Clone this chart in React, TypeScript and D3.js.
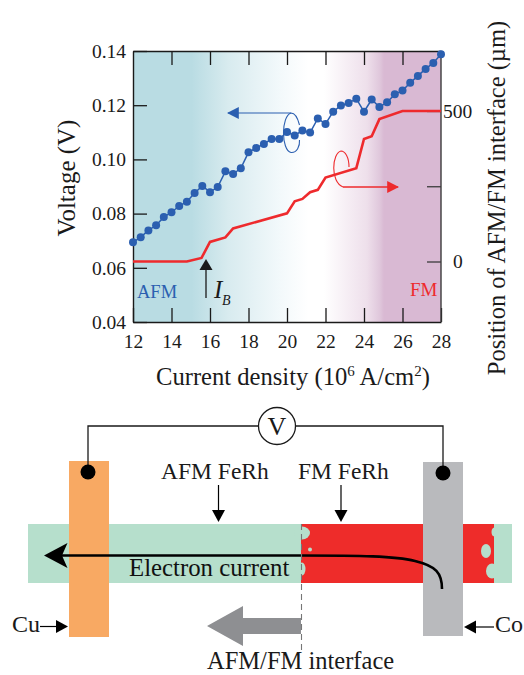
import React, { useEffect, useRef } from 'react';
import * as d3 from 'd3';

// current density (10^6 A/cm2) for the blue voltage points
const currentDensity = [
  12, 12.4, 12.8, 13.2, 13.6, 14, 14.4, 14.8, 15.2, 15.6, 16, 16.4, 16.8, 17.2, 17.6, 18, 18.4, 18.8, 19.2, 19.6, 20,
  20.4, 20.8, 21.2, 21.6, 22, 22.4, 22.8, 23.2, 23.6, 24, 24.4, 24.8, 25.2, 25.6, 26, 26.4, 26.8, 27.2, 27.6, 28,
];
const voltage = [
  0.0694, 0.0713, 0.0738, 0.0757, 0.0787, 0.0805, 0.0828, 0.0844, 0.0876, 0.0902, 0.0879, 0.0898, 0.0956, 0.0946,
  0.0967, 0.1026, 0.1042, 0.1057, 0.1075, 0.1075, 0.1101, 0.1088, 0.1107, 0.1099, 0.1151, 0.1131, 0.1176, 0.1199,
  0.1208, 0.1224, 0.1176, 0.1221, 0.1193, 0.1211, 0.124, 0.1254, 0.1283, 0.1308, 0.1334, 0.1356, 0.1388,
];
const positionCurrent = [12, 14.8, 15.56, 16, 16.8, 17.2, 20, 20.4, 20.8, 21.2, 21.6, 22, 23.6, 24, 24.4, 24.8, 26, 28];
const position = [0, 0, 12, 65, 80, 110, 160, 200, 208, 230, 238, 279, 310, 407, 416, 473, 500, 500];

const xTicks = [12, 14, 16, 18, 20, 22, 24, 26, 28];
const yTicks = [0.04, 0.06, 0.08, 0.1, 0.12, 0.14];
const rightTicks = [0, 250, 500];
const rightLabels = [0, 500];

const W = 524, H = 675;
const plot = { left: 133, right: 441, top: 51, bottom: 322 };
const BLUE = '#2b5fb0', RED = '#ee2a2d', SERIF = '"Liberation Serif", serif';

const App = () => {
  const ref = useRef<SVGSVGElement>(null);

  useEffect(() => {
    const svg = d3.select(ref.current);
    svg.selectAll('*').remove();

    const x = d3.scaleLinear().domain([12, 28]).range([plot.left, plot.right]);
    const y = d3.scaleLinear().domain([0.04, 0.14]).range([plot.bottom, plot.top]);
    const yr = d3.scaleLinear().domain([0, 500]).range([261.5, 111]);
    const tick = 14;

    const defs = svg.append('defs');
    const grad = defs.append('linearGradient').attr('id', 'phase');
    [[0, '#b9dce3'], [0.19, '#b9dce3'], [0.31, '#d8ebef'], [0.48, '#f3f9fb'], [0.57, '#ffffff'], [0.62, '#ffffff'],
      [0.76, '#eedfeb'], [0.8, '#e0c8dc'], [0.815, '#d9b9d3'], [1, '#d9b9d3']].forEach(([o, c]) => {
      grad.append('stop').attr('offset', o as number).attr('stop-color', c as string);
    });
    const arrowHead = (id: string, color: string) => {
      defs.append('marker').attr('id', id).attr('viewBox', '0 0 10 10').attr('refX', 9).attr('refY', 5)
        .attr('markerUnits', 'userSpaceOnUse').attr('markerWidth', 12).attr('markerHeight', 12).attr('orient', 'auto')
        .append('path').attr('d', 'M0,0L10,5L0,10Z').attr('fill', color);
    };
    arrowHead('headBlue', BLUE);
    arrowHead('headRed', RED);

    svg.append('rect').attr('x', plot.left).attr('y', plot.top)
      .attr('width', plot.right - plot.left).attr('height', plot.bottom - plot.top).attr('fill', 'url(#phase)');

    // axes
    const style = (g: any, color = '#1a1a1a') => {
      g.selectAll('.domain').attr('stroke', color).attr('stroke-width', 1.4);
      g.selectAll('line').attr('stroke', color).attr('stroke-width', 1.3);
      g.selectAll('text').attr('font-family', SERIF).attr('font-size', 19.5).attr('fill', '#1a1a1a');
    };
    svg.append('g').attr('transform', `translate(0,${plot.bottom})`)
      .call(d3.axisBottom(x).tickValues(xTicks).tickSize(-tick).tickPadding(8).tickSizeOuter(0)).call(style)
      .selectAll('text').attr('dy', '0.9em');
    svg.append('g').attr('transform', `translate(0,${plot.top})`)
      .call(d3.axisTop(x).tickValues(xTicks.slice(1, -1)).tickSize(-tick).tickFormat(() => '').tickSizeOuter(0)).call(style);
    svg.append('g').attr('transform', `translate(${plot.left},0)`)
      .call(d3.axisLeft(y).tickValues(yTicks).tickSize(-tick).tickPadding(7).tickFormat(d3.format('.2f') as any).tickSizeOuter(0))
      .call(style);
    const rightAxis = svg.append('g').attr('transform', `translate(${plot.right},0)`)
      .call(d3.axisRight(yr).tickValues(rightTicks).tickSize(-tick).tickPadding(4).tickFormat(() => '').tickSizeOuter(0))
      .call(style, '#3c3c3c');
    rightAxis.select('.domain').attr('d', `M0,${plot.top}V${plot.bottom}`);
    rightLabels.forEach((v) => {
      svg.append('text').attr('x', v === 0 ? 453 : 443).attr('y', yr(v)).attr('dy', '0.34em')
        .attr('font-family', SERIF).attr('font-size', 19.5).attr('fill', '#1a1a1a').text(v);
    });

    // series
    const posLine = d3.line<number>().x((_, i) => x(positionCurrent[i])).y((d) => yr(d));
    svg.append('path').attr('d', posLine(position)).attr('fill', 'none').attr('stroke', RED).attr('stroke-width', 2.6);
    const vLine = d3.line<number>().x((_, i) => x(currentDensity[i])).y((d) => y(d));
    svg.append('path').attr('d', vLine(voltage)).attr('fill', 'none').attr('stroke', BLUE).attr('stroke-width', 1.5);
    svg.append('g').selectAll('circle').data(voltage).enter().append('circle')
      .attr('cx', (_, i) => x(currentDensity[i])).attr('cy', (d) => y(d)).attr('r', 4).attr('fill', BLUE);

    // curve annotations
    svg.append('path').attr('d', 'M291,113H228').attr('stroke', BLUE).attr('stroke-width', 1.2)
      .attr('marker-end', 'url(#headBlue)').attr('fill', 'none');
    svg.append('path').attr('d', 'M291,113C281,116 281,150 291,152.5C297,153 300,146 299.5,140M291,113C295,113 298,119 299.5,125')
      .attr('stroke', BLUE).attr('stroke-width', 1.1).attr('fill', 'none');
    svg.append('path').attr('d', 'M343,187H398').attr('stroke', RED).attr('stroke-width', 1.3)
      .attr('marker-end', 'url(#headRed)').attr('fill', 'none');
    svg.append('path').attr('d', 'M349,167C349,157 345,151 341,151C332,153 330,182 343,187')
      .attr('stroke', RED).attr('stroke-width', 1.1).attr('fill', 'none');

    // I_B arrow
    svg.append('path').attr('d', 'M206,298V268').attr('stroke', '#1a1a1a').attr('stroke-width', 1.3);
    svg.append('path').attr('d', 'M206,259L212.5,270H199.5Z').attr('fill', '#1a1a1a');

    // labels over the plot
    const label = (t: string, px: number, py: number, size: number, fill = '#1a1a1a', anchor = 'start') =>
      svg.append('text').attr('x', px).attr('y', py).attr('font-family', SERIF).attr('font-size', size)
        .attr('fill', fill).attr('text-anchor', anchor).text(t);
    label('AFM', 137, 298, 18.5, BLUE);
    label('FM', 410, 296, 19, RED);
    label('I', 214, 298, 25, '#1a1a1a').attr('font-style', 'italic');
    label('B', 222, 305, 14, '#1a1a1a').attr('font-style', 'italic');

    const xTitle = label('Current density (10', 156, 385, 24.6);
    xTitle.append('tspan').attr('font-size', 15).attr('dy', -9).text('6');
    xTitle.append('tspan').attr('dy', 9).text(' A/cm');
    xTitle.append('tspan').attr('font-size', 15).attr('dy', -9).text('2');
    xTitle.append('tspan').attr('dy', 9).text(')');
    label('Voltage (V)', 0, 0, 25, '#1a1a1a', 'middle').attr('transform', 'translate(75,178) rotate(-90)');
    label('Position of AFM/FM interface (µm)', 0, 0, 24.5, '#1a1a1a', 'middle').attr('transform', 'translate(505,198) rotate(-90)');

    // device schematic
    const rect = (rx: number, ry: number, w: number, h: number, fill: string) =>
      svg.append('rect').attr('x', rx).attr('y', ry).attr('width', w).attr('height', h).attr('fill', fill);
    const GREEN = '#b6dfcc', SCHEM_RED = '#ee2c2a';
    rect(28, 524, 484, 59, GREEN);
    rect(301, 524, 193, 59, SCHEM_RED);
    // domain bubbles at the two AFM/FM edges
    [[302, 533, 8, 6.5], [302, 569, 3.5, 6.5], [310, 549.5, 2, 2], [486, 551, 5, 7], [492, 571, 6, 7.5], [495, 532, 3.5, 4.5]]
      .forEach(([cx, cy, rx, ry]) => {
        svg.append('ellipse').attr('cx', cx).attr('cy', cy).attr('rx', rx).attr('ry', ry).attr('fill', GREEN);
      });
    rect(69, 461, 40, 176, '#f8a963');
    rect(423, 462, 40, 174, '#b9babd');

    svg.append('path').attr('d', 'M88,472V426H258M296,426H443V473').attr('fill', 'none')
      .attr('stroke', '#1a1a1a').attr('stroke-width', 1.3);
    svg.append('circle').attr('cx', 277).attr('cy', 426).attr('r', 18.5).attr('fill', '#fff')
      .attr('stroke', '#1a1a1a').attr('stroke-width', 1.3);
    label('V', 277, 435, 26, '#1a1a1a', 'middle');
    svg.append('circle').attr('cx', 88).attr('cy', 472).attr('r', 7.5).attr('fill', '#000');
    svg.append('circle').attr('cx', 443).attr('cy', 473).attr('r', 7.5).attr('fill', '#000');

    // electron current
    svg.append('path').attr('d', 'M60,555.5H300C360,555.5 395,556 415,561C436,566 442,573 442,589')
      .attr('fill', 'none').attr('stroke', '#000').attr('stroke-width', 2.6);
    svg.append('path').attr('d', 'M44,555.5L67.5,543L62,555.5L67.5,568Z').attr('fill', '#000');
    label('Electron current', 129, 576, 24.8, '#111');

    // interface marker
    svg.append('path').attr('d', 'M301.5,524V652').attr('stroke', '#777').attr('stroke-width', 1.1)
      .attr('stroke-dasharray', '6 4').attr('fill', 'none');
    svg.append('path').attr('d', 'M207,626L243,606V618H301V634H243V646Z').attr('fill', '#8e8f92');

    // schematic labels and pointers
    const pointer = (x1: number, y1: number, x2: number, y2: number) => {
      svg.append('line').attr('x1', x1).attr('y1', y1).attr('x2', x2).attr('y2', y2).attr('stroke', '#000').attr('stroke-width', 1.2);
    };
    const head = (d: string) => svg.append('path').attr('d', d).attr('fill', '#000');
    label('AFM FeRh', 161, 479, 23.5);
    pointer(218.5, 485, 218.5, 510);
    head('M212,510H225L218.5,522Z');
    label('FM FeRh', 298, 479, 23.5);
    pointer(341, 485, 341, 510);
    head('M334.5,510H347.5L341,522Z');
    label('Cu', 12, 632, 24);
    pointer(40, 626.5, 58, 626.5);
    head('M56,620V633L68,626.5Z');
    label('Co', 495, 632, 24);
    pointer(476, 627, 494, 627);
    head('M476,620.5V633.5L464,627Z');
    label('AFM/FM interface', 207, 669, 24.5);
  }, []);

  return <svg ref={ref} width={W} height={H} style={{ position: 'absolute', left: 0, top: 0 }} />;
};

export default App;
